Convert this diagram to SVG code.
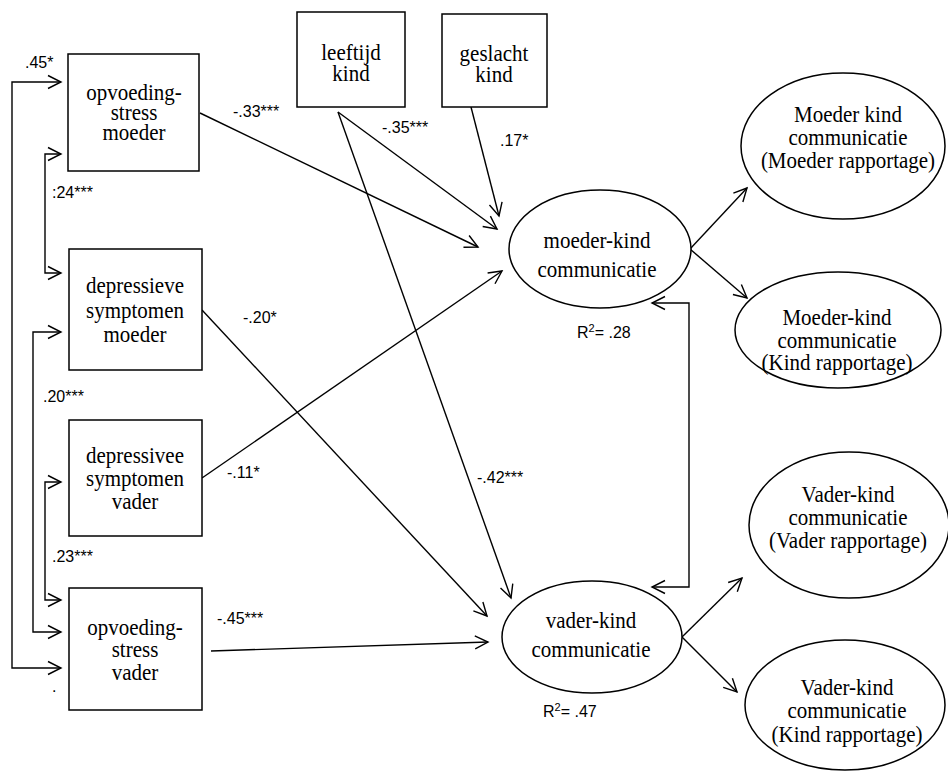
<svg xmlns="http://www.w3.org/2000/svg" width="948" height="780" viewBox="0 0 948 780">
<style>
.box{fill:#fff;stroke:#000;stroke-width:1.5}
.ell{fill:#fff;stroke:#000;stroke-width:1.5}
.t{font-family:"Liberation Serif","Times New Roman",serif;font-size:21px;text-anchor:middle;fill:#000}
.l{font-family:"Liberation Sans",Arial,sans-serif;font-size:16px;fill:#000}
.c{fill:none;stroke:#000;stroke-width:1.4}
</style>
<defs>
<marker id="a" markerUnits="userSpaceOnUse" markerWidth="16" markerHeight="16" viewBox="0 0 16 16" refX="14" refY="8" orient="auto-start-reverse">
<path d="M1,1.5 L14,8 L1,14.5" fill="none" stroke="#000" stroke-width="1.4"/>
</marker>
</defs>
<rect width="948" height="780" fill="#fff"/>
<g id="connectors">
<path class="c" d="M61,82 H12 V668 H61" marker-start="url(#a)" marker-end="url(#a)"/>
<path class="c" d="M61,154 H45 V273 H61" marker-start="url(#a)" marker-end="url(#a)"/>
<path class="c" d="M61,332 H33 V632 H61" marker-start="url(#a)" marker-end="url(#a)"/>
<path class="c" d="M61,482 H45 V600 H61" marker-start="url(#a)" marker-end="url(#a)"/>
<line class="c" x1="200" y1="113" x2="478" y2="247" marker-end="url(#a)"/>
<line class="c" x1="338" y1="112" x2="497" y2="229" marker-end="url(#a)"/>
<line class="c" x1="338" y1="112" x2="511" y2="598" marker-end="url(#a)"/>
<line class="c" x1="471" y1="107" x2="499" y2="216" marker-end="url(#a)"/>
<line class="c" x1="202" y1="310" x2="487" y2="616" marker-end="url(#a)"/>
<line class="c" x1="202" y1="478" x2="502" y2="271" marker-end="url(#a)"/>
<line class="c" x1="211" y1="651" x2="488" y2="642" marker-end="url(#a)"/>
<line class="c" x1="690" y1="249" x2="747" y2="188" marker-end="url(#a)"/>
<line class="c" x1="690" y1="249" x2="747" y2="298" marker-end="url(#a)"/>
<line class="c" x1="682" y1="637" x2="742" y2="578" marker-end="url(#a)"/>
<line class="c" x1="682" y1="637" x2="737" y2="692" marker-end="url(#a)"/>
<path class="c" d="M652,303 H689 V587 H652" marker-start="url(#a)" marker-end="url(#a)"/>
</g>
<g id="labels">
<text class="l" x="25" y="68">.45*</text>
<text class="l" x="52" y="198">:24***</text>
<text class="l" x="43" y="402">.20***</text>
<text class="l" x="52" y="562">.23***</text>
<text class="l" x="52" y="692">.</text>
<text class="l" x="233" y="117">-.33***</text>
<text class="l" x="382" y="133">-.35***</text>
<text class="l" x="500" y="146">.17*</text>
<text class="l" x="243" y="323">-.20*</text>
<text class="l" x="227" y="478">-.11*</text>
<text class="l" x="477" y="483">-.42***</text>
<text class="l" x="217" y="624">-.45***</text>
<text class="l" x="577" y="338">R<tspan font-size="11" dy="-6">2</tspan><tspan dy="6">= .28</tspan></text>
<text class="l" x="543" y="717">R<tspan font-size="11" dy="-6">2</tspan><tspan dy="6">= .47</tspan></text>
</g>
<g id="opv-moeder">
<rect class="box" x="68" y="54" width="131" height="117"/>
<text class="t" transform="translate(134,100) scale(1,1.1)"><tspan x="0" y="0">opvoeding-</tspan><tspan x="0" dy="18.2">stress</tspan><tspan x="0" dy="18.2">moeder</tspan></text>
</g>
<g id="depr-moeder">
<rect class="box" x="69" y="249" width="133" height="121"/>
<text class="t" transform="translate(135,293) scale(1,1.1)"><tspan x="0" y="0">depressieve</tspan><tspan x="0" dy="22.4">symptomen</tspan><tspan x="0" dy="22">moeder</tspan></text>
</g>
<g id="depr-vader">
<rect class="box" x="69" y="420" width="133" height="116"/>
<text class="t" transform="translate(135,463) scale(1,1.1)"><tspan x="0" y="0">depressivee</tspan><tspan x="0" dy="20.9">symptomen</tspan><tspan x="0" dy="20.9">vader</tspan></text>
</g>
<g id="opv-vader">
<rect class="box" x="69" y="588" width="133" height="122"/>
<text class="t" transform="translate(135,635) scale(1,1.1)"><tspan x="0" y="0">opvoeding-</tspan><tspan x="0" dy="20.2">stress</tspan><tspan x="0" dy="20.7">vader</tspan></text>
</g>
<g id="leeftijd">
<rect class="box" x="297" y="12" width="108" height="95"/>
<text class="t" transform="translate(351,60) scale(1,1.1)"><tspan x="0" y="0">leeftijd</tspan><tspan x="0" dy="19.1">kind</tspan></text>
</g>
<g id="geslacht">
<rect class="box" x="442" y="14" width="105" height="93"/>
<text class="t" transform="translate(494,61) scale(1,1.1)"><tspan x="0" y="0">geslacht</tspan><tspan x="0" dy="19.1">kind</tspan></text>
</g>
<g id="moeder-kind">
<ellipse class="ell" cx="600" cy="249" rx="91" ry="59"/>
<text class="t" transform="translate(597,248) scale(1,1.1)"><tspan x="0" y="0">moeder-kind</tspan><tspan x="0" dy="26.4">communicatie</tspan></text>
</g>
<g id="vader-kind">
<ellipse class="ell" cx="592" cy="637" rx="90" ry="56"/>
<text class="t" transform="translate(591,628) scale(1,1.1)"><tspan x="0" y="0">vader-kind</tspan><tspan x="0" dy="26.4">communicatie</tspan></text>
</g>
<g id="mk-moeder">
<ellipse class="ell" cx="843" cy="146" rx="102" ry="73"/>
<text class="t" transform="translate(848,122) scale(1,1.1)"><tspan x="0" y="0">Moeder kind</tspan><tspan x="0" dy="20.9">communicatie</tspan><tspan x="0" dy="20.9">(Moeder rapportage)</tspan></text>
</g>
<g id="mk-kind">
<ellipse class="ell" cx="838" cy="330" rx="103" ry="58"/>
<text class="t" transform="translate(837,325) scale(1,1.1)"><tspan x="0" y="0">Moeder-kind</tspan><tspan x="0" dy="20.9">communicatie</tspan><tspan x="0" dy="20.2">(Kind rapportage)</tspan></text>
</g>
<g id="vk-vader">
<ellipse class="ell" cx="849" cy="525" rx="100" ry="73"/>
<text class="t" transform="translate(848,502) scale(1,1.1)"><tspan x="0" y="0">Vader-kind</tspan><tspan x="0" dy="20.9">communicatie</tspan><tspan x="0" dy="20.9">(Vader rapportage)</tspan></text>
</g>
<g id="vk-kind">
<ellipse class="ell" cx="845" cy="705" rx="100" ry="65"/>
<text class="t" transform="translate(847,695) scale(1,1.1)"><tspan x="0" y="0">Vader-kind</tspan><tspan x="0" dy="20.9">communicatie</tspan><tspan x="0" dy="21.6">(Kind rapportage)</tspan></text>
</g>
</svg>
